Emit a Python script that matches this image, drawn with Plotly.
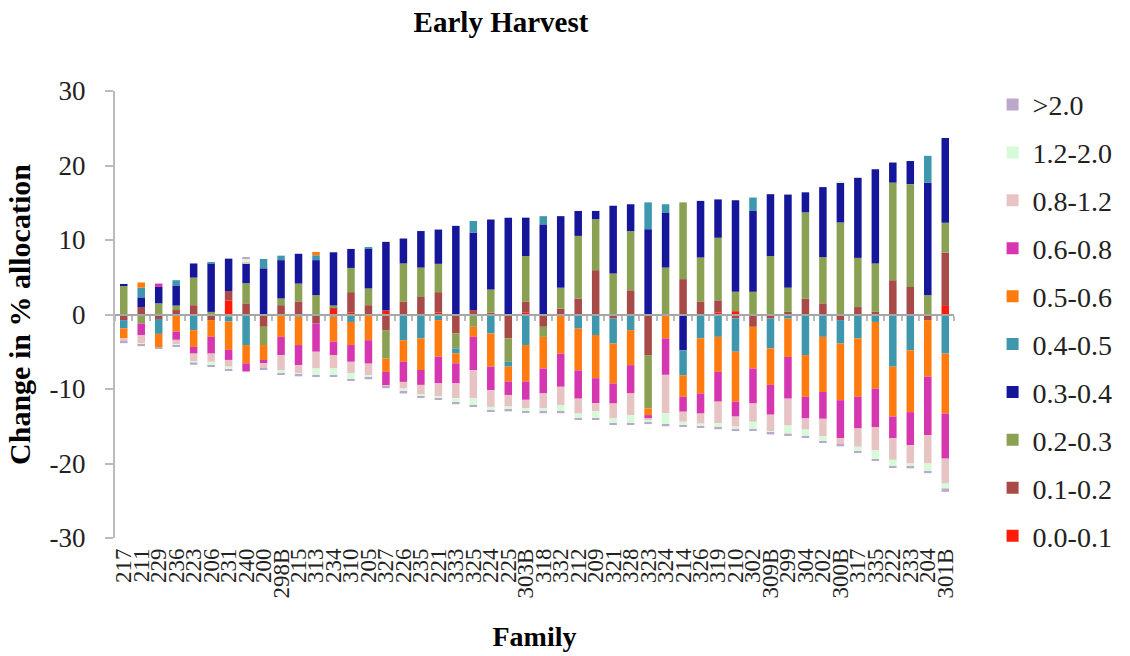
import plotly.graph_objects as go
import numpy as np

families = ["217", "211", "229", "236", "223", "206", "231", "240", "200", "298B",
            "215", "313", "234", "310", "205", "327", "226", "235", "221", "333",
            "325", "224", "225", "303B", "318", "332", "212", "209", "321", "328",
            "323", "324", "214", "326", "319", "210", "302", "309B", "299", "304",
            "202", "300B", "317", "335", "222", "233", "204", "301B"]

y_ticks = [-30, -20, -10, 0, 10, 20, 30]
y_tick_labels = [str(t) for t in y_ticks]

series_names = ["0.0-0.1", "0.1-0.2", "0.2-0.3", "0.3-0.4", "0.4-0.5",
                "0.5-0.6", "0.6-0.8", "0.8-1.2", "1.2-2.0", ">2.0"]
series_colors = ["#FF1A0A", "#A84A47", "#8AA154", "#16169A", "#3F97AE",
                 "#FF7B10", "#D636B0", "#E8C3C3", "#D5FBD9", "#BBA8CC"]

v_00_01 = [0, 0, 0, 0, 0, 0, 1.9, 0, 0, 0,
           0, 0, 0.8, 0.25, 0, 0.55, 0, 0, 0.25, 0,
           0, 0, 0, 0.25, 0, 0, 0, 0, 0, 0,
           0, 0, 0, 0, 0.25, 0.45, 0, 0, 0, 0,
           0, 0, 0, 0, 0, 0, 0, 1.15]
v_01_02 = [-0.75, 1.0, -0.6, 0.6, 1.25, -0.75, 1.25, 1.5, -1.65, 1.25,
           1.7, -1.2, 0.2, 2.75, 1.25, -2.1, 1.7, 2.35, 2.75, -2.55,
           0.6, 0.25, -3.2, 1.45, -1.65, 0.8, 2.15, 5.95, -0.55, 3.25,
           -5.45, 0, 4.75, 1.7, 1.65, -0.55, -1.65, -0.55, 0.35, 2.15,
           1.5, -0.75, 1.0, 0.35, 4.6, 3.7, -0.75, 7.15]
v_02_03 = [3.85, -1.2, 1.5, 0.6, 3.7, 0.35, -0.3, 2.7, -2.45, 0.9,
           2.45, 2.6, 0.2, 3.25, 2.25, -3.8, 5.15, 3.95, 3.8, -2.0,
           -1.65, 3.1, -3.15, 6.15, -1.35, 2.8, 8.4, 6.85, 5.5, 7.95,
           -7.15, 6.3, 10.3, 5.95, 8.4, 2.6, 3.05, 7.85, 3.25, 11.55,
           6.2, 12.35, 6.6, 6.5, 13.1, 13.8, 2.6, 4.0]
v_03_04 = [0.25, 1.3, 2.2, 2.7, 1.9, 6.5, 4.35, 2.7, 6.2, 5.15,
           4.0, 4.7, 7.15, 2.55, 5.35, 9.2, 3.35, 4.9, 4.6, 11.9,
           10.4, 9.4, 13.0, 5.15, 12.1, 9.6, 3.35, 1.1, 9.1, 3.6,
           11.45, 7.4, -4.8, 7.6, 5.15, 12.3, 10.85, 8.3, 12.5, 2.7,
           9.4, 5.35, 10.75, 12.65, 2.7, 3.1, 15.1, 11.4]
v_04_05 = [-1.1, 1.3, -2.0, 0.7, -2.1, 0.2, -0.65, -4.1, 1.25, 0.6,
           -0.3, 0.65, -0.3, -1.0, 0.2, 0, -3.45, -3.2, -0.75, -0.65,
           1.55, -2.55, -0.65, -4.1, 1.1, 0, -1.9, -2.75, -3.35, -2.1,
           3.6, 1.1, -3.35, -3.2, -3.0, -4.45, 1.8, -4.0, -0.55, -5.45,
           -3.0, -3.15, -3.2, -1.0, -7.0, -4.8, 3.6, -5.25]
v_05_06 = [-1.35, 0.7, -1.8, -2.3, -2.25, -2.25, -3.8, -2.45, -2.0, -3.0,
           -3.8, 0.45, -3.35, -3.1, -3.45, -1.8, -2.9, -4.25, -4.9, -1.35,
           -1.35, -4.45, -2.0, -4.9, -4.25, -5.25, -5.6, -5.8, -5.35, -4.7,
           -0.9, -3.2, -2.9, -7.4, -4.7, -6.7, -5.6, -4.9, -5.15, -5.6,
           -7.4, -7.6, -7.85, -8.95, -6.7, -8.3, -7.6, -8.05]
v_06_08 = [0, -1.55, 0.45, -1.1, -0.9, -2.25, -1.35, -1.1, -0.45, -2.45,
           -2.7, -3.8, -1.8, -2.25, -3.15, -1.8, -2.7, -2.0, -3.6, -2.7,
           -4.45, -3.15, -1.8, -2.45, -3.35, -4.45, -3.8, -3.35, -2.7, -3.8,
           -0.45, -4.9, -2.0, -2.7, -4.0, -2.0, -4.7, -4.0, -5.6, -2.9,
           -3.6, -5.1, -4.25, -5.15, -2.9, -4.45, -7.85, -6.05]
v_08_12 = [-0.45, -1.1, 0, -0.65, -1.0, -1.1, -0.9, 0.2, -0.65, -2.0,
           -1.1, -2.25, -1.8, -1.55, -1.55, -0.2, -0.9, -1.35, -1.8, -2.0,
           -3.8, -2.25, -1.55, -1.1, -2.0, -2.45, -2.0, -1.1, -2.0, -2.9,
           -0.3, -5.15, -1.35, -1.35, -2.9, -1.35, -2.45, -2.25, -3.6, -1.5,
           -2.35, -0.9, -2.45, -3.1, -2.9, -2.45, -3.8, -3.35]
v_12_20 = [0, -0.2, 0, -0.1, -0.2, -0.45, -0.35, 0.35, 0, -0.45,
           -0.2, -0.9, -0.9, -0.8, -0.35, 0, -0.45, -0.2, -0.2, -0.6,
           -0.9, -0.45, -0.45, -0.45, -0.45, -0.9, -0.6, -0.9, -0.65, -1.1,
           -0.25, -1.55, -0.45, -0.35, -0.6, -0.35, -1.0, -0.2, -1.1, -0.9,
           -0.65, 0.2, -0.6, -1.2, -0.9, -0.45, -1.1, -0.65]
v_gt_20 = [-0.2, -0.2, -0.2, -0.2, -0.3, -0.2, -0.15, 0.2, -0.2, -0.2,
           -0.2, -0.2, -0.2, -0.2, -0.2, -0.2, -0.2, -0.2, -0.2, -0.2,
           -0.2, -0.2, -0.2, -0.2, -0.2, -0.2, -0.2, -0.2, -0.2, -0.2,
           -0.2, -0.2, -0.2, -0.2, -0.2, -0.2, -0.2, -0.2, -0.3, -0.2,
           -0.25, -0.2, -0.2, -0.2, -0.2, -0.2, -0.2, -0.45]

series_values = [v_00_01, v_01_02, v_02_03, v_03_04, v_04_05,
                 v_05_06, v_06_08, v_08_12, v_12_20, v_gt_20]

FONT = "Liberation Serif, Times New Roman, serif"

fig = go.Figure()
n_series = len(series_names)
for i, (name, color, vals) in enumerate(zip(series_names, series_colors, series_values)):
    fig.add_trace(go.Bar(
        x=families, y=vals, name=name, legendgroup=name,
        legendrank=n_series - i,
        marker=dict(color=color, line=dict(width=0)),
    ))

# invisible trace so the overlaid category-boundary axis (drawn at y = 0) is rendered
fig.add_trace(go.Scatter(x=[0], y=[0], xaxis="x2", mode="markers",
                         marker=dict(opacity=0), showlegend=False, hoverinfo="skip"))

fig.update_layout(
    width=1130, height=656,
    barmode="relative",
    bargap=0.57,
    plot_bgcolor="white", paper_bgcolor="white",
    margin=dict(l=115, r=150, t=91, b=118),
    font=dict(family=FONT, size=20, color="black"),
    title=dict(text="<b>Early Harvest</b>", x=501 / 1130, xanchor="center",
               y=1 - 22 / 656, yanchor="middle",
               font=dict(family=FONT, size=29, color="black")),
    legend=dict(x=1.046, y=1.025, xanchor="left", yanchor="top",
                traceorder="grouped", tracegroupgap=8.5, maxheight=640,
                font=dict(family=FONT, size=28, color="#222"),
                bgcolor="rgba(0,0,0,0)"),
    showlegend=True,
    xaxis=dict(type="category", showline=False, ticks="", showgrid=False,
               zeroline=False, tickangle=-90,
               tickmode="array", tickvals=families, ticktext=families,
               ticklabelstandoff=5,
               tickfont=dict(family=FONT, size=23, color="#222"),
               title=dict(text="<b>Family</b>", standoff=28,
                          font=dict(family=FONT, size=28, color="black")),
               automargin=False),
    xaxis2=dict(overlaying="x", anchor="free", position=0.5,
                range=[-0.5, len(families) - 0.5], showgrid=False, zeroline=False,
                showline=True, linecolor="#A6A6A6", linewidth=2,
                ticks="outside", ticklen=5, tickwidth=2, tickcolor="#BBBBBB",
                tickmode="linear", tick0=-0.5, dtick=1, showticklabels=False),
    yaxis=dict(range=[-30, 30], showgrid=False, zeroline=False,
               tickmode="array", tickvals=y_ticks, ticktext=y_tick_labels,
               showline=True, linecolor="#BBBBBB", linewidth=2,
               ticks="outside", ticklen=8, tickwidth=2, tickcolor="#BBBBBB",
               ticklabelstandoff=14,
               tickfont=dict(family=FONT, size=27, color="#222"),
               title=dict(text="<b>Change in % allocation</b>", standoff=10,
                          font=dict(family=FONT, size=30, color="black")),
               automargin=False),
)

fig.write_html("out.html")
